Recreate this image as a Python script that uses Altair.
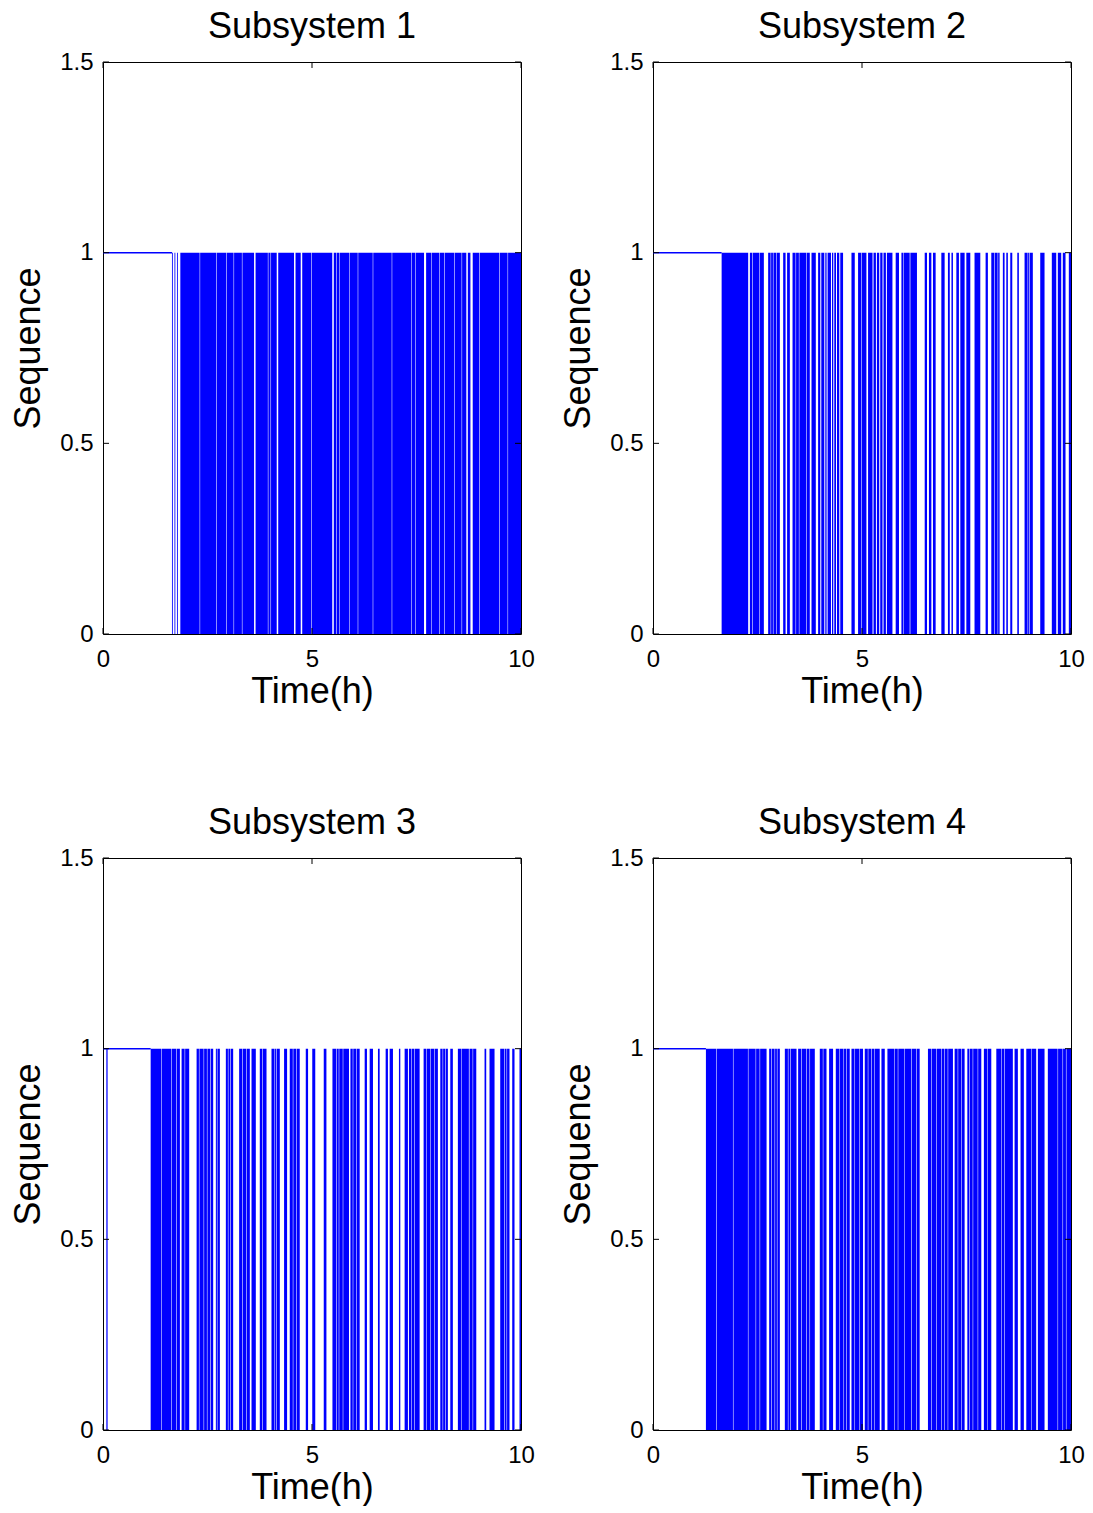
import altair as alt
import pandas as pd

TITLES = ["Subsystem 1", "Subsystem 2", "Subsystem 3", "Subsystem 4"]
X_TICKS = [0, 5, 10]
Y_TICKS = [0, 0.5, 1, 1.5]
# sequence is held at 1 from t=0 until switching starts
HOLD_END = [1.65, 1.642, 1.14, 1.266]

# blocks of dense switching (start, end) in hours
S1_BLOCKS = [
    (1.65, 1.67), (1.71, 1.73), (1.77, 1.79),
    (1.85, 2.312), (2.324, 2.711), (2.723, 2.950), (2.962, 3.124), (3.136, 3.323),
    (3.335, 3.614), (3.650, 3.944), (3.956, 4.008), (4.020, 4.156), (4.192, 4.570),
    (4.606, 4.730), (4.766, 4.981), (4.993, 5.485), (5.521, 5.578), (5.590, 5.657),
    (5.669, 5.896), (5.908, 6.094), (6.106, 6.453), (6.465, 6.907), (6.919, 7.370),
    (7.382, 7.466), (7.478, 7.680), (7.730, 7.848), (7.860, 8.047), (8.059, 8.166),
    (8.178, 8.405), (8.417, 8.579), (8.591, 8.692), (8.728, 8.790), (8.845, 9.002),
    (9.014, 9.480), (9.492, 9.679), (9.691, 10.0),
]
S2_BLOCKS = [
    (1.642, 2.277), (2.318, 2.375), (2.387, 2.545), (2.557, 2.652),
    (2.755, 2.814), (2.826, 2.869), (2.881, 2.950), (2.962, 3.035),
    (3.114, 3.172), (3.208, 3.274),
    (3.338, 3.411), (3.423, 3.490), (3.502, 3.667), (3.679, 3.751),
    (3.792, 3.895),
    (3.950, 4.002), (4.026, 4.098), (4.122, 4.153), (4.177, 4.258), (4.282, 4.313),
    (4.337, 4.378), (4.402, 4.456), (4.480, 4.547),
    (4.748, 4.827), (4.906, 4.981), (4.993, 5.106),
    (5.145, 5.252), (5.276, 5.333), (5.357, 5.412), (5.436, 5.491), (5.515, 5.572),
    (5.596, 5.728), (5.806, 5.885), (5.943, 5.992), (6.004, 6.141), (6.157, 6.315),
    (6.500, 6.555), (6.602, 6.659), (6.698, 6.762), (6.898, 6.977),
    (7.056, 7.100), (7.140, 7.176), (7.257, 7.319), (7.352, 7.455), (7.496, 7.591),
    (7.692, 7.830), (7.957, 8.012), (8.093, 8.166), (8.178, 8.245), (8.257, 8.292),
    (8.370, 8.411), (8.452, 8.490), (8.547, 8.595), (8.715, 8.753),
    (8.889, 8.962), (8.974, 9.002), (9.014, 9.087), (9.264, 9.367),
    (9.541, 9.647), (9.685, 9.766), (9.804, 9.869), (9.948, 10.0),
]
S3_BLOCKS = [
    (0.08, 0.11),
    (1.140, 1.397), (1.409, 1.636), (1.648, 1.755), (1.767, 1.840),
    (1.880, 1.953), (1.965, 2.062),
    (2.239, 2.295), (2.307, 2.407), (2.419, 2.486), (2.498, 2.567), (2.579, 2.636),
    (2.700, 2.725), (2.737, 2.796),
    (2.939, 2.988), (3.000, 3.045), (3.057, 3.114),
    (3.257, 3.332), (3.344, 3.428), (3.440, 3.513),
    (3.553, 3.656), (3.751, 3.810), (3.822, 3.912),
    (4.031, 4.104), (4.116, 4.144), (4.156, 4.230), (4.332, 4.404),
    (4.468, 4.541), (4.553, 4.622), (4.634, 4.707),
    (4.851, 4.906), (5.006, 5.078), (5.281, 5.345),
    (5.489, 5.578), (5.590, 5.640), (5.652, 5.736), (5.748, 5.885),
    (5.919, 5.975), (5.987, 6.056), (6.068, 6.141),
    (6.260, 6.315), (6.380, 6.459), (6.578, 6.619), (6.762, 6.817), (6.858, 6.937),
    (7.080, 7.113), (7.216, 7.295), (7.319, 7.370), (7.382, 7.449), (7.461, 7.575),
    (7.670, 7.729), (7.741, 7.824), (7.836, 7.927), (7.939, 8.012),
    (8.069, 8.125), (8.137, 8.190), (8.202, 8.251), (8.308, 8.370),
    (8.490, 8.565), (8.577, 8.753), (8.769, 8.843), (8.855, 8.930),
    (9.128, 9.168), (9.247, 9.367), (9.503, 9.600), (9.612, 9.655), (9.667, 9.725),
    (9.790, 9.845), (9.964, 10.0),
]
S4_BLOCKS = [
    (1.266, 1.516), (1.528, 1.913), (1.925, 2.271), (2.283, 2.455), (2.467, 2.551),
    (2.563, 2.717),
    (2.779, 2.830), (2.842, 2.909), (2.921, 2.964), (2.976, 3.035),
    (3.154, 3.227), (3.239, 3.284), (3.296, 3.434),
    (3.472, 3.547), (3.559, 3.667), (3.679, 3.745), (3.757, 3.871),
    (3.990, 4.063), (4.075, 4.151), (4.213, 4.308),
    (4.373, 4.462), (4.474, 4.558), (4.570, 4.622), (4.634, 4.707),
    (4.748, 4.821), (4.833, 4.940), (4.952, 5.025),
    (5.066, 5.139), (5.151, 5.220), (5.232, 5.299), (5.311, 5.424), (5.465, 5.545),
    (5.608, 5.777), (5.789, 5.856), (5.868, 6.016), (6.028, 6.176), (6.188, 6.295),
    (6.307, 6.380),
    (6.578, 6.653), (6.665, 6.773), (6.785, 6.892), (6.904, 6.971), (6.983, 7.050),
    (7.062, 7.176), (7.216, 7.289), (7.301, 7.370), (7.382, 7.455),
    (7.520, 7.569), (7.581, 7.648), (7.660, 7.767), (7.779, 7.854),
    (7.916, 7.991), (8.003, 8.093), (8.213, 8.326), (8.338, 8.405), (8.417, 8.609),
    (8.650, 8.729), (8.793, 8.872), (8.930, 9.043), (9.055, 9.168), (9.207, 9.367),
    (9.446, 9.679), (9.691, 9.798), (9.810, 9.879), (9.891, 10.0),
]
ALL_BLOCKS = [S1_BLOCKS, S2_BLOCKS, S3_BLOCKS, S4_BLOCKS]

W, H = 418, 572
BLUE = "#0000ff"
FONT = "Liberation Sans"
TICK_LEN = 6

xscale = alt.Scale(domain=[0, 10], nice=False, zero=False)
yscale = alt.Scale(domain=[0, 1.5], nice=False, zero=False)
xaxis = alt.Axis(values=X_TICKS, title="Time(h)", labelFlush=False,
                 labelExpr="'' + datum.value")
yaxis = alt.Axis(values=Y_TICKS, title="Sequence", labelFlush=False,
                 labelExpr="'' + datum.value")


def X(field):
    return alt.X(f"{field}:Q", scale=xscale, axis=xaxis, title="Time(h)")


def Y(field):
    return alt.Y(f"{field}:Q", scale=yscale, axis=yaxis, title="Sequence")


def panel(i):
    blocks = ALL_BLOCKS[i]
    df = pd.DataFrame(blocks, columns=["x", "x2"])
    df["y"] = 0
    df["y2"] = 1
    rects = alt.Chart(df).mark_rect(color=BLUE, strokeWidth=0).encode(
        x=X("x"), x2="x2:Q", y=Y("y"), y2="y2:Q"
    )
    hold_df = pd.DataFrame({"x": [0], "x2": [HOLD_END[i]], "y": [1]})
    hold = alt.Chart(hold_df).mark_rule(color=BLUE, strokeWidth=1.5).encode(
        x=X("x"), x2="x2:Q", y=Y("y")
    )
    xt = pd.DataFrame({"x": X_TICKS})
    yt = pd.DataFrame({"y": Y_TICKS})
    xt_bot = alt.Chart(xt).mark_rule(color="black").encode(
        x=X("x"), y=alt.value(H), y2=alt.value(H - TICK_LEN))
    xt_top = alt.Chart(xt).mark_rule(color="black").encode(
        x=X("x"), y=alt.value(0), y2=alt.value(TICK_LEN))
    yt_l = alt.Chart(yt).mark_rule(color="black").encode(
        y=Y("y"), x=alt.value(0), x2=alt.value(TICK_LEN))
    yt_r = alt.Chart(yt).mark_rule(color="black").encode(
        y=Y("y"), x=alt.value(W), x2=alt.value(W - TICK_LEN))
    return alt.layer(rects, hold, xt_bot, xt_top, yt_l, yt_r).properties(
        width=W, height=H,
        title=alt.TitleParams(TITLES[i], baseline="bottom", offset=-32),
    )


row1 = alt.hconcat(panel(0), panel(1), spacing=25)
row2 = alt.hconcat(panel(2), panel(3), spacing=25)
chart = alt.vconcat(row1, row2, spacing=94).properties(
    padding={"left": 2, "top": 0, "right": 0, "bottom": 0}
).configure_view(
    stroke="black", strokeWidth=1
).configure_axis(
    labelFont=FONT, titleFont=FONT, labelFontSize=24, titleFontSize=36,
    titleFontWeight="normal", labelColor="black", titleColor="black",
    ticks=False, domain=False, grid=False,
).configure_axisX(
    labelPadding=13, titlePadding=3,
).configure_axisY(
    labelPadding=10, titlePadding=12,
).configure_title(
    font=FONT, fontSize=36, fontWeight="normal", color="black",
)

chart.save("out.html", embed_options={"renderer": "svg", "actions": False})
